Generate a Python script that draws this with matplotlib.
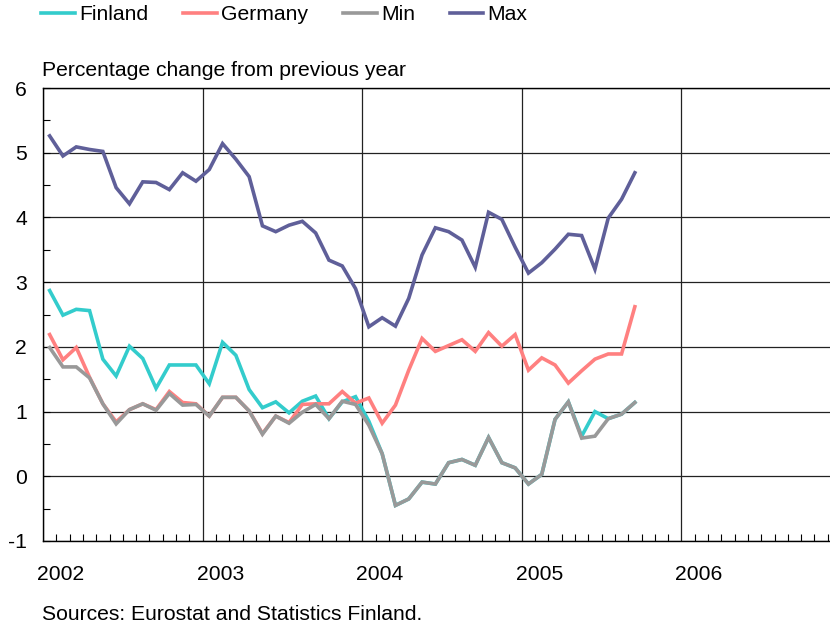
import numpy as np
from matplotlib import pyplot as plt
from matplotlib.ticker import MultipleLocator
from matplotlib.transforms import blended_transform_factory

plt.rcParams['font.family'] = ['Liberation Sans', 'DejaVu Sans']
plt.rcParams['axes.unicode_minus'] = False

# Monthly values, Jan 2002 .. Sep 2005 (percentage change from previous year)
start_year = 2002
finland = [2.87, 2.49, 2.58, 2.56, 1.81, 1.55, 2.01, 1.82, 1.36, 1.72, 1.72, 1.72,
           1.43, 2.07, 1.87, 1.34, 1.06, 1.15, 0.98, 1.16, 1.24, 0.89, 1.15, 1.23,
           0.85, 0.35, -0.45, -0.35, -0.09, -0.12, 0.21, 0.26, 0.17, 0.60, 0.21, 0.13,
           -0.12, 0.03, 0.88, 1.15, 0.62, 1.00, 0.89, 0.96, 1.14]
germany = [2.19, 1.80, 1.99, 1.53, 1.12, 0.84, 1.03, 1.12, 1.03, 1.31, 1.14, 1.12,
           0.93, 1.22, 1.22, 1.01, 0.66, 0.93, 0.83, 1.11, 1.12, 1.12, 1.31, 1.13,
           1.21, 0.82, 1.10, 1.64, 2.13, 1.93, 2.02, 2.11, 1.93, 2.22, 2.01, 2.19,
           1.64, 1.83, 1.72, 1.44, 1.63, 1.81, 1.89, 1.89, 2.62]
ea_min = [1.99, 1.69, 1.69, 1.52, 1.12, 0.81, 1.03, 1.12, 1.02, 1.28, 1.10, 1.11,
          0.93, 1.22, 1.22, 1.01, 0.65, 0.93, 0.82, 0.99, 1.11, 0.89, 1.16, 1.11,
          0.79, 0.35, -0.45, -0.35, -0.09, -0.12, 0.21, 0.26, 0.17, 0.60, 0.21, 0.13,
          -0.12, 0.03, 0.88, 1.15, 0.59, 0.62, 0.89, 0.96, 1.14]
ea_max = [5.26, 4.95, 5.09, 5.05, 5.02, 4.46, 4.21, 4.55, 4.54, 4.43, 4.69, 4.56,
          4.74, 5.14, 4.90, 4.63, 3.87, 3.78, 3.88, 3.94, 3.76, 3.34, 3.25, 2.90,
          2.31, 2.45, 2.32, 2.75, 3.42, 3.84, 3.78, 3.65, 3.23, 4.08, 3.97, 3.54,
          3.14, 3.30, 3.51, 3.74, 3.72, 3.20, 3.99, 4.28, 4.69]
year_labels = ['2002', '2003', '2004', '2005', '2006']

# points sit mid-month
t = start_year + (np.arange(len(finland)) + 0.5) / 12.0

W, H = 830, 627
FS = 15.2
fig = plt.figure(figsize=(W / 100, H / 100), dpi=100)
# axes runs past the right edge of the figure, as in the original
ax = fig.add_axes([43 / W, 1 - 541 / H, 798 / W, 453 / H])

series = [
    (finland, '#33CCCC', 'Finland'),
    (germany, '#FF8080', 'Germany'),
    (ea_min, '#999999', 'Min'),
    (ea_max, '#5F5F99', 'Max'),
]
lines = []
for vals, color, label in series:
    ln, = ax.plot(t, vals, color=color, lw=2.6, label=label,
                  solid_joinstyle='miter', zorder=3)
    lines.append(ln)
# grey drawn over finland/germany where they coincide
lines[2].set_zorder(4)

ax.set_xlim(2002, 2007)
ax.set_ylim(-1, 6)

ax.yaxis.set_major_locator(MultipleLocator(1))
ax.yaxis.set_minor_locator(MultipleLocator(0.5))
ax.xaxis.set_major_locator(MultipleLocator(1))
ax.xaxis.set_minor_locator(MultipleLocator(1 / 12))
ax.tick_params(axis='both', which='both', direction='in', color='black')
ax.tick_params(axis='y', which='both', length=5, width=0.8, labelsize=FS, pad=11.5)
ax.tick_params(axis='x', which='minor', length=5, width=0.8)
ax.tick_params(axis='x', which='major', length=0, labelbottom=False)

ax.grid(True, which='major', color='#222222', lw=0.9)
for side in ['top', 'left', 'bottom']:
    ax.spines[side].set_linewidth(1.0)
ax.spines['right'].set_visible(False)

tr = blended_transform_factory(ax.transData, fig.transFigure)
for i, lab in enumerate(year_labels):
    ax.text(start_year + i + 0.11, 1 - 574 / H, lab, transform=tr,
            ha='center', va='center', fontsize=FS)

fig.text(42 / W, 1 - 71 / H, 'Percentage change from previous year',
         ha='left', va='center', fontsize=FS)
fig.text(42 / W, 1 - 614 / H, 'Sources: Eurostat and Statistics Finland.',
         ha='left', va='center', fontsize=FS)

fig.legend(handles=lines, loc='center left', bbox_to_anchor=(41 / W, 1 - 15 / H),
           ncol=4, frameon=False, fontsize=FS, handlelength=1.6,
           handletextpad=0.2, columnspacing=1.65, borderaxespad=0, borderpad=0)

fig.savefig('out.png', dpi=100)
